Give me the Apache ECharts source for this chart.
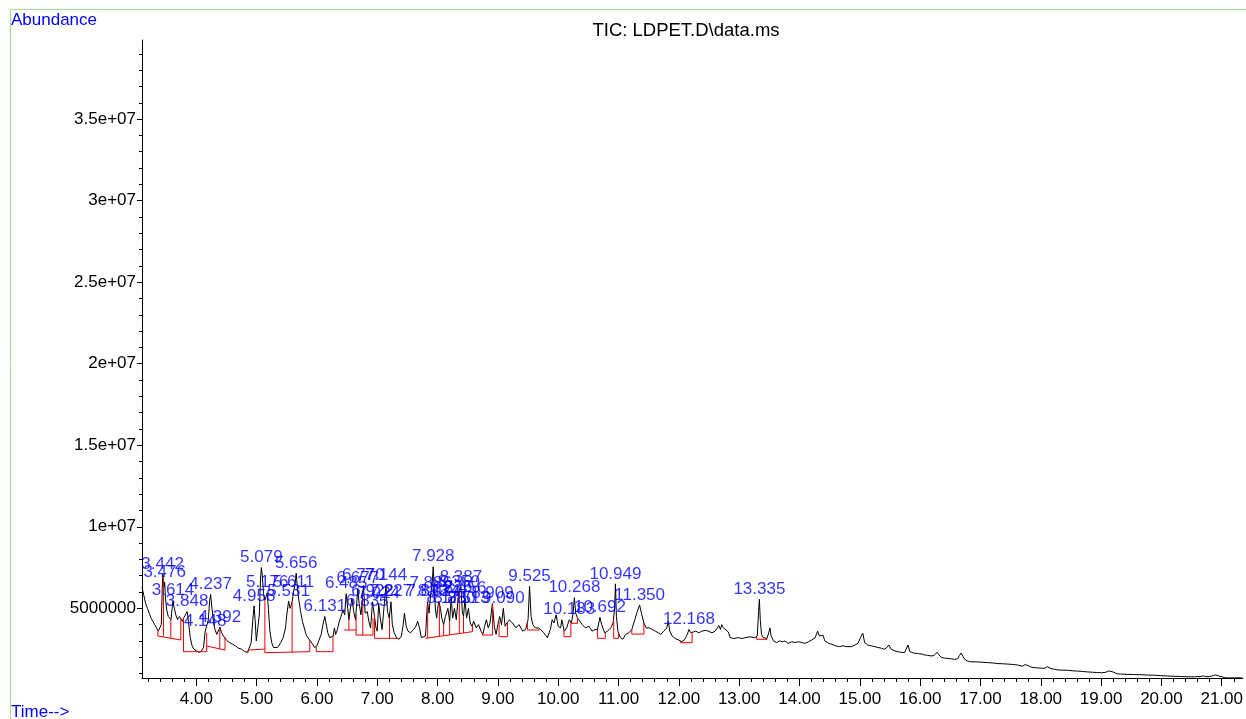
<!DOCTYPE html>
<html><head><meta charset="utf-8">
<script src="https://cdn.jsdelivr.net/npm/echarts@6/dist/echarts.min.js"></script>
<style>html,body{margin:0;padding:0;background:#fff}#c{width:1246px;height:719px}</style>
</head><body><div id="c"></div>
<script>
// Total ion chromatogram: [retention time (min), abundance]
const chromatogram = [
[3.10,6.3e6],[3.13,5.8e6],[3.16,5.3e6],[3.19,5.0e6],[3.22,4.7e6],[3.25,4.4e6],[3.28,4.2e6],[3.31,4.0e6],[3.34,3.8e6],[3.37,3.6e6],
[3.40,3.5e6],[3.42,4.0e6],[3.435,6.2e6],[3.445,7.1e6],[3.455,6.8e6],[3.465,6.3e6],[3.476,6.6e6],[3.49,5.6e6],[3.51,4.9e6],[3.535,4.5e6],
[3.56,4.4e6],[3.58,4.3e6],[3.60,5.0e6],[3.614,5.45e6],[3.63,5.1e6],[3.66,4.6e6],[3.69,4.3e6],[3.72,4.5e6],[3.745,4.4e6],[3.77,4.2e6],
[3.79,4.4e6],[3.82,4.6e6],[3.848,4.8e6],[3.87,4.2e6],[3.90,3.2e6],[3.93,2.7e6],[3.96,2.5e6],[4.00,2.4e6],[4.04,2.3e6],[4.08,2.35e6],
[4.12,2.6e6],[4.148,3.6e6],[4.17,3.5e6],[4.20,4.3e6],[4.22,5.4e6],[4.237,5.85e6],[4.255,5.2e6],[4.28,4.3e6],[4.31,3.7e6],[4.34,3.4e6],
[4.37,3.5e6],[4.392,3.85e6],[4.42,3.5e6],[4.45,3.3e6],[4.476,3.25e6],[4.50,3.05e6],[4.55,2.9e6],[4.60,2.8e6],[4.65,2.7e6],[4.70,2.55e6],
[4.75,2.5e6],[4.80,2.35e6],[4.85,2.3e6],[4.88,2.4e6],[4.91,2.9e6],[4.935,4.2e6],[4.958,5.15e6],[4.975,4.3e6],[4.995,3.0e6],[5.02,3.1e6],
[5.045,4.6e6],[5.065,6.8e6],[5.079,7.5e6],[5.095,7.0e6],[5.115,5.9e6],[5.137,5.5e6],[5.155,5.6e6],[5.176,5.95e6],[5.195,5.0e6],[5.22,3.6e6],
[5.25,2.9e6],[5.28,2.6e6],[5.31,2.5e6],[5.35,2.6e6],[5.40,2.9e6],[5.44,3.2e6],[5.48,3.8e6],[5.50,4.6e6],[5.531,5.45e6],[5.555,5.0e6],
[5.575,5.2e6],[5.589,5.4e6],[5.611,6.0e6],[5.635,6.4e6],[5.656,7.15e6],[5.675,6.3e6],[5.70,5.5e6],[5.73,4.8e6],[5.76,4.2e6],[5.79,3.8e6],
[5.82,3.4e6],[5.85,3.2e6],[5.88,3.05e6],[5.92,2.85e6],[5.96,2.6e6],[6.00,2.7e6],[6.03,3.0e6],[6.07,3.4e6],[6.10,4.0e6],[6.131,4.5e6],
[6.15,4.1e6],[6.18,3.5e6],[6.21,3.2e6],[6.24,3.1e6],[6.27,3.3e6],[6.29,3.8e6],[6.31,3.4e6],[6.34,3.7e6],[6.37,4.2e6],[6.40,4.5e6],
[6.43,4.9e6],[6.46,4.6e6],[6.485,5.9e6],[6.51,5.0e6],[6.53,4.3e6],[6.55,4.9e6],[6.58,5.6e6],[6.61,4.8e6],[6.64,4.3e6],[6.677,6.2e6],
[6.70,5.3e6],[6.73,4.6e6],[6.75,5.4e6],[6.77,6.4e6],[6.80,4.7e6],[6.835,4.8e6],[6.86,4.2e6],[6.89,3.8e6],[6.922,5.4e6],[6.95,4.6e6],
[6.98,3.8e6],[7.00,3.6e6],[7.024,5.3e6],[7.05,4.4e6],[7.08,3.7e6],[7.11,3.6e6],[7.144,6.4e6],[7.17,4.8e6],[7.20,4.4e6],[7.227,5.4e6],
[7.25,4.0e6],[7.28,3.5e6],[7.32,3.2e6],[7.36,3.1e6],[7.40,3.3e6],[7.43,4.0e6],[7.45,4.7e6],[7.48,3.9e6],[7.51,3.6e6],[7.55,3.5e6],
[7.60,3.7e6],[7.64,3.9e6],[7.67,4.2e6],[7.70,3.8e6],[7.73,3.2e6],[7.76,3.1e6],[7.80,3.3e6],[7.833,5.4e6],[7.86,4.7e6],[7.886,5.9e6],
[7.91,6.5e6],[7.928,7.55e6],[7.945,6.2e6],[7.965,4.9e6],[7.985,4.4e6],[8.00,5.0e6],[8.024,5.4e6],[8.048,5.0e6],[8.07,4.4e6],[8.10,4.0e6],
[8.13,4.5e6],[8.171,5.0e6],[8.20,4.2e6],[8.226,5.7e6],[8.25,4.4e6],[8.28,5.0e6],[8.31,4.3e6],[8.35,6.0e6],[8.387,6.3e6],[8.41,4.8e6],
[8.43,4.5e6],[8.456,5.6e6],[8.48,4.4e6],[8.513,5.0e6],[8.54,4.1e6],[8.57,3.9e6],[8.60,4.2e6],[8.64,3.8e6],[8.68,4.0e6],[8.72,3.6e6],
[8.75,3.4e6],[8.78,3.9e6],[8.81,4.3e6],[8.84,3.8e6],[8.87,4.1e6],[8.909,5.3e6],[8.94,3.9e6],[8.97,3.4e6],[9.00,4.0e6],[9.03,4.5e6],
[9.06,4.0e6],[9.09,5.0e6],[9.12,3.9e6],[9.15,4.1e6],[9.19,4.3e6],[9.24,4.1e6],[9.30,3.8e6],[9.35,4.0e6],[9.41,3.6e6],[9.46,3.7e6],
[9.50,4.3e6],[9.525,6.35e6],[9.55,4.5e6],[9.58,4.0e6],[9.62,3.8e6],[9.67,3.8e6],[9.71,3.7e6],[9.76,3.5e6],[9.82,3.2e6],[9.87,3.7e6],
[9.90,4.3e6],[9.93,4.1e6],[9.965,4.6e6],[10.00,3.9e6],[10.04,3.8e6],[10.06,4.3e6],[10.10,3.6e6],[10.14,3.8e6],[10.183,4.3e6],[10.22,4.1e6],
[10.25,4.8e6],[10.268,5.65e6],[10.29,4.7e6],[10.32,4.4e6],[10.36,4.2e6],[10.40,4.0e6],[10.45,3.8e6],[10.51,3.9e6],[10.56,3.6e6],[10.61,3.7e6],
[10.65,3.7e6],[10.692,4.45e6],[10.72,4.0e6],[10.77,3.5e6],[10.82,3.6e6],[10.87,3.8e6],[10.91,4.1e6],[10.935,5.0e6],[10.949,6.5e6],[10.965,4.5e6],
[10.99,3.6e6],[11.03,3.2e6],[11.07,3.1e6],[11.12,3.4e6],[11.17,3.5e6],[11.22,3.7e6],[11.27,4.3e6],[11.31,4.8e6],[11.35,5.2e6],[11.38,4.7e6],
[11.42,4.1e6],[11.46,3.8e6],[11.51,3.8e6],[11.56,3.7e6],[11.61,3.6e6],[11.66,3.5e6],[11.70,3.4e6],[11.75,3.6e6],[11.80,3.8e6],[11.825,4.2e6],
[11.85,3.6e6],[11.89,3.3e6],[11.94,3.15e6],[12.00,3.05e6],[12.05,2.95e6],[12.10,3.1e6],[12.14,3.4e6],[12.168,3.7e6],[12.20,3.5e6],[12.24,3.55e6],
[12.28,3.6e6],[12.33,3.5e6],[12.38,3.6e6],[12.44,3.65e6],[12.49,3.6e6],[12.55,3.5e6],[12.60,3.6e6],[12.64,3.8e6],[12.66,3.95e6],[12.69,3.7e6],
[12.71,4.0e6],[12.74,3.8e6],[12.77,3.7e6],[12.82,3.55e6],[12.85,3.2e6],[12.91,3.15e6],[12.99,3.2e6],[13.05,3.15e6],[13.10,3.2e6],[13.18,3.25e6],
[13.26,3.2e6],[13.30,3.3e6],[13.322,4.8e6],[13.335,5.55e6],[13.35,4.3e6],[13.37,3.4e6],[13.40,3.2e6],[13.46,3.15e6],[13.49,3.5e6],[13.51,3.8e6],
[13.53,3.3e6],[13.57,3.0e6],[13.62,2.9e6],[13.67,3.0e6],[13.72,2.95e6],[13.76,3.0e6],[13.81,2.85e6],[13.87,2.95e6],[13.93,2.9e6],[13.98,2.95e6],
[14.04,2.9e6],[14.09,2.85e6],[14.15,2.95e6],[14.20,3.05e6],[14.26,3.2e6],[14.30,3.6e6],[14.33,3.3e6],[14.36,3.3e6],[14.39,3.35e6],[14.42,3.0e6],
[14.48,2.85e6],[14.53,2.8e6],[14.60,2.7e6],[14.66,2.65e6],[14.72,2.7e6],[14.78,2.65e6],[14.86,2.65e6],[14.92,2.75e6],[14.97,2.85e6],[15.01,3.2e6],
[15.05,3.47e6],[15.08,2.9e6],[15.13,2.75e6],[15.19,2.7e6],[15.25,2.65e6],[15.30,2.6e6],[15.36,2.55e6],[15.41,2.49e6],[15.45,2.6e6],[15.48,2.75e6],
[15.52,2.49e6],[15.57,2.4e6],[15.63,2.34e6],[15.69,2.3e6],[15.74,2.28e6],[15.77,2.4e6],[15.80,2.75e6],[15.83,2.34e6],[15.87,2.3e6],[15.91,2.24e6],
[15.95,2.24e6],[15.99,2.2e6],[16.03,2.2e6],[16.07,2.14e6],[16.12,2.12e6],[16.18,2.08e6],[16.23,2.1e6],[16.28,2.3e6],[16.31,2.15e6],[16.35,2.0e6],
[16.40,1.95e6],[16.46,1.93e6],[16.52,1.9e6],[16.57,1.87e6],[16.62,1.9e6],[16.65,2.1e6],[16.68,2.26e6],[16.71,2.05e6],[16.74,1.87e6],[16.78,1.78e6],
[16.82,1.73e6],[16.89,1.72e6],[16.96,1.71e6],[17.04,1.69e6],[17.12,1.67e6],[17.20,1.65e6],[17.29,1.61e6],[17.37,1.6e6],[17.45,1.58e6],[17.53,1.56e6],
[17.62,1.52e6],[17.70,1.45e6],[17.74,1.55e6],[17.77,1.67e6],[17.80,1.47e6],[17.84,1.39e6],[17.90,1.36e6],[17.95,1.35e6],[18.01,1.33e6],[18.06,1.32e6],
[18.11,1.42e6],[18.14,1.35e6],[18.17,1.3e6],[18.23,1.26e6],[18.28,1.22e6],[18.36,1.21e6],[18.44,1.2e6],[18.52,1.17e6],[18.61,1.15e6],[18.69,1.13e6],
[18.77,1.1e6],[18.86,1.08e6],[18.94,1.06e6],[19.01,1.05e6],[19.08,1.08e6],[19.12,1.16e6],[19.15,1.24e6],[19.18,1.12e6],[19.21,1.04e6],[19.27,0.98e6],
[19.32,0.97e6],[19.43,0.95e6],[19.54,0.94e6],[19.66,0.93e6],[19.77,0.91e6],[19.88,0.9e6],[19.99,0.87e6],[20.10,0.85e6],[20.21,0.83e6],[20.33,0.82e6],
[20.45,0.8e6],[20.56,0.8e6],[20.66,0.82e6],[20.70,0.86e6],[20.74,0.8e6],[20.80,0.82e6],[20.86,0.87e6],[20.90,0.92e6],[20.95,0.85e6],[20.98,0.76e6],
[21.06,0.74e6],[21.14,0.73e6],[21.24,0.74e6],[21.34,0.73e6]
];

// Integrated peaks: retention time and apex abundance
const peakTimes = [3.442,3.476,3.614,3.848,4.148,4.237,4.392,4.958,5.079,5.176,5.531,5.611,5.656,6.131,6.485,6.677,6.770,6.835,6.922,7.024,
  7.144,7.227,7.833,7.886,7.928,8.024,8.171,8.226,8.280,8.350,8.387,8.456,8.513,8.909,9.090,9.525,10.183,10.268,10.692,10.949,11.350,12.168,13.335];
const peakApex = [7.1e6,6.6e6,5.5e6,4.8e6,3.6e6,5.85e6,3.85e6,5.15e6,7.5e6,6.0e6,5.45e6,6.0e6,7.15e6,4.5e6,5.9e6,6.2e6,6.4e6,4.8e6,5.4e6,5.3e6,
  6.4e6,5.4e6,5.4e6,5.9e6,7.55e6,5.4e6,5.0e6,5.7e6,5.0e6,6.0e6,6.3e6,5.6e6,5.0e6,5.3e6,5.0e6,6.35e6,4.3e6,5.65e6,4.45e6,6.5e6,5.2e6,3.7e6,5.55e6];

// Integration baselines: [start time, start abundance, end time, end abundance]
const baselineSegments = [
[3.363,3.30e6,3.743,3.06e6],[3.788,2.34e6,4.173,2.34e6],[4.173,2.69e6,4.476,2.44e6],[4.86,2.44e6,5.137,2.5e6],[5.137,2.28e6,5.881,2.34e6],
[5.99,2.34e6,6.266,2.34e6],[6.45,3.67e6,6.65,3.67e6],[6.65,3.36e6,6.93,3.36e6],[6.955,3.16e6,7.34,3.16e6],[7.80,3.16e6,8.58,3.57e6],
[8.746,3.36e6,8.91,3.36e6],[9.02,3.26e6,9.16,3.26e6],[9.49,3.67e6,9.68,3.67e6],[10.095,3.26e6,10.21,3.26e6],[10.21,4.08e6,10.32,4.08e6],
[10.65,3.16e6,10.78,3.16e6],[10.92,3.16e6,11.0,3.16e6],[11.22,3.42e6,11.42,3.42e6],[12.03,2.89e6,12.22,2.89e6],[13.29,3.10e6,13.46,3.10e6]
];
// Peak boundary drop lines: [time, baseline abundance, signal abundance]
const dropLines = [
[3.363,3.30e6,3.6e6],[3.457,3.27e6,6.9e6],[3.578,3.18e6,4.3e6],[3.743,3.06e6,4.4e6],[3.788,2.34e6,4.4e6],[4.173,2.34e6,3.5e6],
[4.39,2.5e6,3.8e6],[4.476,2.44e6,3.25e6],[4.86,2.44e6,2.3e6],[5.137,2.28e6,5.5e6],[5.589,2.31e6,5.4e6],[5.881,2.34e6,3.05e6],
[5.99,2.34e6,2.65e6],[6.266,2.34e6,3.3e6],[6.53,3.67e6,4.3e6],[6.65,3.36e6,4.6e6],[6.76,3.36e6,5.6e6],[6.93,3.36e6,4.4e6],
[6.955,3.16e6,4.6e6],[7.203,3.16e6,4.4e6],[7.34,3.16e6,3.15e6],[7.836,3.17e6,5.3e6],[8.03,3.28e6,5.3e6],[8.10,3.32e6,4.0e6],
[8.20,3.37e6,4.2e6],[8.36,3.45e6,6.1e6],[8.43,3.49e6,4.5e6],[8.58,3.57e6,3.95e6],[8.746,3.36e6,3.5e6],[8.91,3.36e6,5.3e6],
[9.02,3.26e6,4.2e6],[9.16,3.26e6,4.1e6],[9.49,3.67e6,4.1e6],[9.68,3.67e6,3.75e6],[10.095,3.26e6,3.65e6],[10.21,3.26e6,4.15e6],
[10.32,4.08e6,4.4e6],[10.65,3.16e6,3.7e6],[10.78,3.16e6,3.5e6],[10.92,3.16e6,4.3e6],[11.0,3.16e6,3.5e6],[11.22,3.42e6,3.7e6],
[11.42,3.42e6,4.1e6],[12.03,2.89e6,3.0e6],[12.22,2.89e6,3.5e6],[13.29,3.10e6,3.25e6],[13.46,3.10e6,3.15e6]
];

const xMajorTicks = [4,5,6,7,8,9,10,11,12,13,14,15,16,17,18,19,20,21];
const xTickLabels = ["4.00","5.00","6.00","7.00","8.00","9.00","10.00","11.00","12.00","13.00","14.00","15.00","16.00","17.00","18.00","19.00","20.00","21.00"];
const yMajorTicks = [5e6,10e6,15e6,20e6,25e6,30e6,35e6];
const yTickLabels = ["5000000","1e+07","1.5e+07","2e+07","2.5e+07","3e+07","3.5e+07"];
const xMin = 3.10, xMax = 21.35, yMin = 727000, yMax = 39850000;

const xMinorTicks = []; for (let i = 16; i <= 106; i++) xMinorTicks.push(+(i * 0.2).toFixed(1));
const yMinorTicks = []; for (let i = 1; i <= 39; i++) yMinorTicks.push(i * 1e6);

const FONT = '"Liberation Sans", Arial, Helvetica, sans-serif';
const BLUE = '#0000ff';
const RED = '#ee0000';

const chart = echarts.init(document.getElementById('c'), null, {renderer: 'canvas'});

// segments for the integration marks: [x1, y1, x2, y2]
const redSegments = baselineSegments.map(s => [s[0], s[1], s[2], s[3]])
  .concat(dropLines.map(d => [d[0], d[1], d[0], d[2]]));

chart.setOption({
  animation: false,
  backgroundColor: '#fff',
  grid: {left: 142, right: 0, top: 40, bottom: 41, containLabel: false},
  xAxis: [{
    type: 'value', min: xMin, max: xMax, position: 'bottom',
    axisLine: {show: true, onZero: false, lineStyle: {color: '#000', width: 1}},
    axisTick: {show: true, length: 8, inside: false, customValues: xMajorTicks, lineStyle: {color: '#000'}},
    axisLabel: {show: true, customValues: xMajorTicks, margin: 13, color: '#000', fontSize: 17, fontFamily: FONT,
      formatter: v => xTickLabels[xMajorTicks.indexOf(Math.round(v))]},
    splitLine: {show: false}
  }, {
    type: 'value', min: xMin, max: xMax, position: 'bottom', gridIndex: 0,
    axisLine: {show: false, onZero: false},
    axisTick: {show: true, length: 4, customValues: xMinorTicks, lineStyle: {color: '#000'}},
    axisLabel: {show: false},
    splitLine: {show: false}
  }],
  yAxis: [{
    type: 'value', min: yMin, max: yMax, position: 'left',
    axisLine: {show: true, onZero: false, lineStyle: {color: '#000', width: 1}},
    axisTick: {show: true, length: 5, customValues: yMajorTicks, lineStyle: {color: '#000'}},
    axisLabel: {show: true, customValues: yMajorTicks, margin: 6, color: '#000', fontSize: 17, fontFamily: FONT,
      formatter: v => yTickLabels[yMajorTicks.indexOf(v)]},
    splitLine: {show: false}
  }, {
    type: 'value', min: yMin, max: yMax, position: 'left', gridIndex: 0,
    axisLine: {show: false, onZero: false},
    axisTick: {show: true, length: 3, customValues: yMinorTicks, lineStyle: {color: '#000'}},
    axisLabel: {show: false},
    splitLine: {show: false}
  }],
  graphic: [
    {type: 'rect', silent: true, z: 0, shape: {x: 10.5, y: 9.5, width: 1400, height: 900},
     style: {fill: 'none', stroke: '#94e694', lineWidth: 1}},
    {type: 'text', left: 11, top: 12, silent: true,
     style: {text: 'Abundance', fill: BLUE, font: '17px ' + FONT}},
    {type: 'text', left: 11, top: 704, silent: true,
     style: {text: 'Time-->', fill: BLUE, font: '17px ' + FONT}},
    {type: 'text', x: 686, y: 21.5, silent: true,
     style: {text: 'TIC: LDPET.D\\data.ms', fill: '#000', font: '18.5px ' + FONT, textAlign: 'center'}}
  ],
  series: [{
    type: 'line', xAxisIndex: 0, yAxisIndex: 0, data: chromatogram,
    showSymbol: false, symbol: 'none', smooth: false, sampling: null,
    lineStyle: {color: '#000', width: 1}, z: 2, silent: true
  }, {
    type: 'custom', coordinateSystem: 'cartesian2d', xAxisIndex: 0, yAxisIndex: 0, z: 3, silent: true,
    data: redSegments, encode: {x: [0, 2], y: [1, 3]},
    renderItem: (params, api) => {
      const p1 = api.coord([api.value(0), api.value(1)]);
      const p2 = api.coord([api.value(2), api.value(3)]);
      return {type: 'line', shape: {x1: p1[0], y1: p1[1], x2: p2[0], y2: p2[1]},
              style: {stroke: RED, lineWidth: 1, fill: null}};
    }
  }, {
    type: 'scatter', xAxisIndex: 0, yAxisIndex: 0, z: 4, silent: true,
    data: peakTimes.map((t, i) => [t, peakApex[i]]),
    symbol: 'circle', symbolSize: 1, itemStyle: {color: 'rgba(0,0,0,0)'},
    label: {show: true, position: 'top', distance: 1, offset: [0, 2], color: BLUE, fontSize: 17, fontFamily: FONT,
      formatter: p => p.value[0].toFixed(3)},
    labelLayout: {hideOverlap: false}
  }]
});
</script></body></html>
